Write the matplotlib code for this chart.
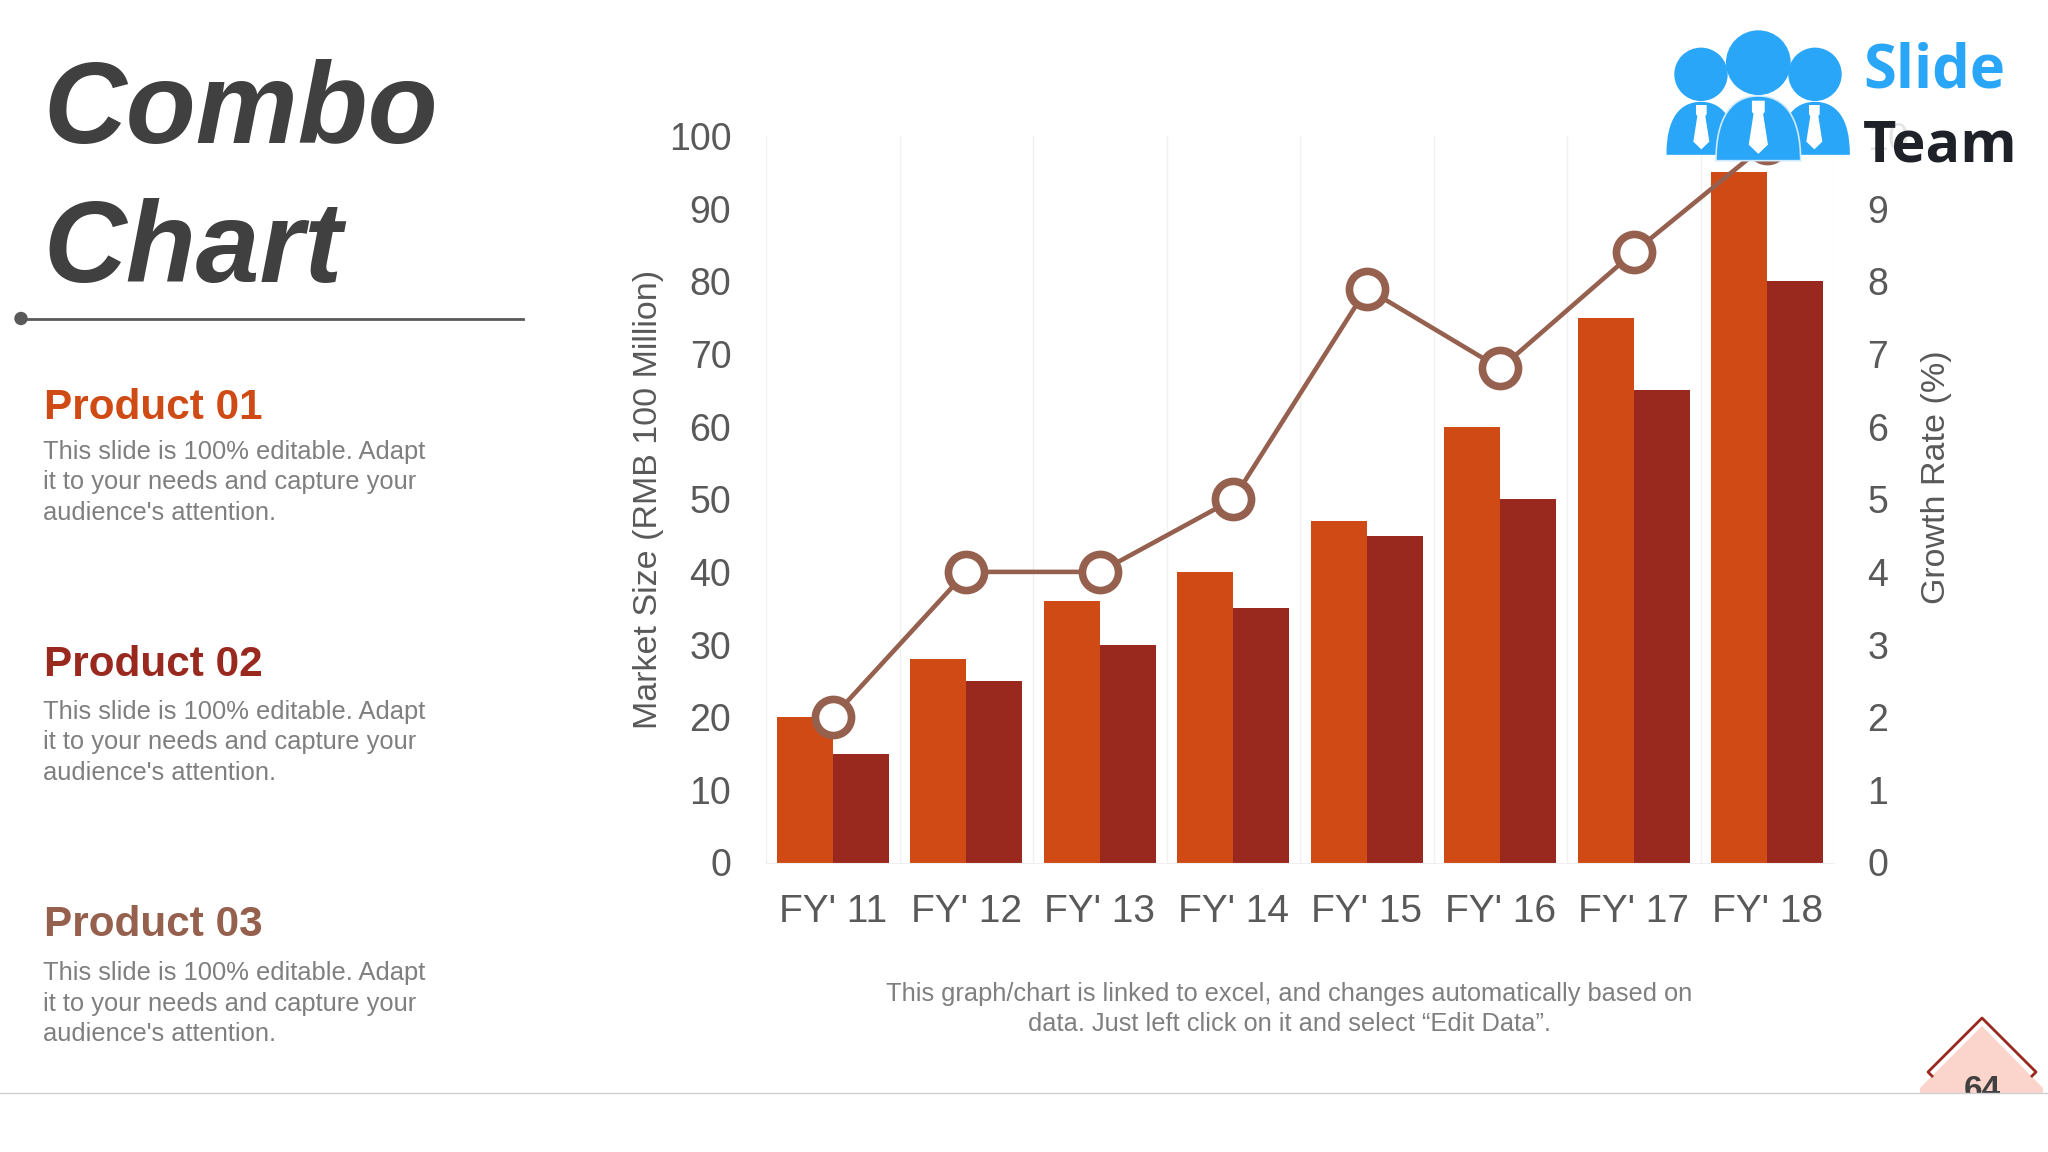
import matplotlib
matplotlib.use('Agg')
import matplotlib.pyplot as plt
from matplotlib.patches import Circle, Polygon, PathPatch, Rectangle
from matplotlib.path import Path

plt.rcParams['font.family'] = ['Liberation Sans', 'DejaVu Sans']

# Data
years = ["FY' 11", "FY' 12", "FY' 13", "FY' 14", "FY' 15", "FY' 16", "FY' 17", "FY' 18"]
product_01 = [20, 28, 36, 40, 47, 60, 75, 95]
product_02 = [15, 25, 30, 35, 45, 50, 65, 80]
growth_rate = [2, 4, 4, 5, 7.9, 6.8, 8.4, 9.9]
left_ticks = [0, 10, 20, 30, 40, 50, 60, 70, 80, 90, 100]
right_ticks = [0, 1, 2, 3, 4, 5, 6, 7, 8, 9, 10]
product_names = ['Product 01', 'Product 02', 'Product 03']

# Colors
ORANGE = '#d04a15'
RED = '#99291e'
BROWN = '#96604f'
GREY = '#7f7f7f'
TICK = '#595959'
DARK = '#404040'
BLUE = '#2aa6f9'

W, H = 2048, 1152
fig = plt.figure(figsize=(W / 100, H / 100), dpi=100, facecolor='white')

# === CHART ===
ax_l, ax_r, ax_t, ax_b = 766, 1834, 136, 862.5
ax = fig.add_axes([ax_l / W, 1 - ax_b / H, (ax_r - ax_l) / W, (ax_b - ax_t) / H])
bar_w = 0.42
xs = list(range(len(years)))
ax.bar([x - bar_w / 2 for x in xs], product_01, bar_w, color=ORANGE, zorder=2)
ax.bar([x + bar_w / 2 for x in xs], product_02, bar_w, color=RED, zorder=2)
ax.set_xlim(-0.5, 7.5)
ax.set_ylim(0, 100)
ax.set_xticks(xs)
ax.set_xticklabels(years)
ax.set_yticks(left_ticks)
ax.set_xticks([x - 0.5 for x in range(len(years) + 1)], minor=True)
ax.grid(True, which='minor', axis='x', color='#f3f0f0', linewidth=1, zorder=0)
ax.tick_params(axis='x', which='both', length=0)
ax.tick_params(axis='x', which='major', pad=23, labelsize=28, labelcolor=TICK)
ax.tick_params(axis='y', length=0, pad=25, labelsize=27, labelcolor=TICK)
for s in ['top', 'left', 'right']:
    ax.spines[s].set_visible(False)
ax.spines['bottom'].set_color('#f0eeee')
ax.set_ylabel('Market Size (RMB 100 Million)', fontsize=24.5, color=TICK)
ax.yaxis.set_label_coords((664 - ax_l) / (ax_r - ax_l), 0.5)

ax2 = ax.twinx()
ax2.plot(xs, growth_rate, color=BROWN, linewidth=3.3, marker='o', markersize=26,
         markerfacecolor='white', markeredgecolor=BROWN, markeredgewidth=5.5,
         clip_on=False, zorder=5)
ax2.set_ylim(0, 10)
ax2.set_yticks(right_ticks)
ax2.tick_params(axis='y', length=0, pad=24, labelsize=27, labelcolor=TICK)
for s in ax2.spines.values():
    s.set_visible(False)
ax2.set_ylabel('Growth Rate (%)', fontsize=24.5, color=TICK, rotation=90)
ax2.yaxis.set_label_coords((1921 - ax_l) / (ax_r - ax_l), (ax_b - 477) / (ax_b - ax_t))

# === SLIDE OVERLAY (pixel coordinates) ===
ov = fig.add_axes([0, 0, 1, 1], zorder=10)
ov.set_xlim(0, W)
ov.set_ylim(H, 0)
ov.axis('off')
ov.patch.set_alpha(0)

# Title
ov.text(43, 143, 'Combo', fontsize=82.5, fontweight='bold', style='italic', color=DARK, va='baseline')
ov.text(43, 282, 'Chart', fontsize=82.5, fontweight='bold', style='italic', color=DARK, va='baseline')
ov.plot([21, 523], [318.5, 318.5], color='#595959', linewidth=2)
ov.add_patch(Circle((21, 318.5), 6, color='#595959'))

# Product blocks
body_lines = ['This slide is 100% editable. Adapt', 'it to your needs and capture your', "audience's attention."]
name_colors = [ORANGE, RED, BROWN]
name_y = [419, 676, 936]
body_y = [459, 719, 980]
for name, col, ny, by in zip(product_names, name_colors, name_y, body_y):
    ov.text(44, ny, name, fontsize=30.4, fontweight='bold', color=col, va='baseline')
    for i, line in enumerate(body_lines):
        ov.text(43, by + i * 30.5, line, fontsize=18.4, color=GREY, va='baseline')

# Caption
ov.text(1289, 994, 'This graph/chart is linked to excel, and changes automatically based on',
        fontsize=18.3, color=GREY, ha='center', va='center')
ov.text(1289, 1024, 'data. Just left click on it and select \u201cEdit Data\u201d.',
        fontsize=18.3, color=GREY, ha='center', va='center')

# Page marker
ov.add_patch(Polygon([(1982, 1026), (2043, 1088), (2043, 1093), (1920, 1093), (1920, 1088)],
                     color='#fbd5cb', linewidth=0))
ov.plot([1932, 1928, 1982, 2036, 2032], [1076, 1072, 1018, 1072, 1076], color=RED, linewidth=2)
ov.text(1982, 1099, '64', fontsize=24, fontweight='bold', color=DARK, ha='center', va='baseline')
ov.add_patch(Rectangle((0, 1093), W, 59, color='white', linewidth=0, zorder=4))
ov.plot([0, W], [1093, 1093], color='#d0d0d4', linewidth=1, zorder=5)


# Logo, measured from the zoomed crop
def lx(v):
    return 1640 + v / 3


def ly(v):
    return 10 + v / 3


def body(cx, hw, top, bottom, edge):
    h = bottom - top
    verts = [(cx - hw, bottom), (cx - hw, top + 0.3 * h), (cx - 0.6 * hw, top), (cx, top),
             (cx + 0.6 * hw, top), (cx + hw, top + 0.3 * h), (cx + hw, bottom), (cx - hw, bottom)]
    codes = [Path.MOVETO, Path.CURVE4, Path.CURVE4, Path.CURVE4,
             Path.CURVE4, Path.CURVE4, Path.CURVE4, Path.CLOSEPOLY]
    verts = [(lx(a), ly(b)) for a, b in verts]
    ov.add_patch(PathPatch(Path(verts, codes), facecolor=BLUE, edgecolor=edge, linewidth=1.2, zorder=6))


def tie(cx, top, scale):
    pts = [(-16, 0), (16, 0), (16, 28), (12, 33), (24, 110), (0, 133), (-24, 110), (-12, 33), (-16, 28)]
    ov.add_patch(Polygon([(lx(cx + a * scale), ly(top + b * scale)) for a, b in pts],
                         color='white', linewidth=0, zorder=7))


ov.add_patch(Rectangle((1860, 112), 160, 56, color='white', alpha=0.85, linewidth=0, zorder=6))
for cx, cy, r in [(183, 193, 78), (525, 193, 78)]:
    ov.add_patch(Circle((lx(cx), ly(cy)), r / 3, color=BLUE, zorder=6))
body(183, 101, 278, 432, BLUE)
body(525, 102, 278, 432, BLUE)
tie(184, 285, 1.0)
tie(523, 285, 1.0)
ov.add_patch(Circle((lx(355), ly(158)), 95 / 3, color=BLUE, zorder=6))
body(355, 127, 258, 452, '#cfe9fd')
tie(355, 272, 1.2)
ov.text(1863, 87, 'Slide', family='Open Sans', fontsize=43, fontweight='bold', color=BLUE, va='baseline', zorder=8)
ov.text(1863, 161, 'Team', family='Open Sans', fontsize=41.5, fontweight='bold', color='#1e2228', va='baseline', zorder=8)

fig.savefig('out.png', dpi=100, facecolor='white')
